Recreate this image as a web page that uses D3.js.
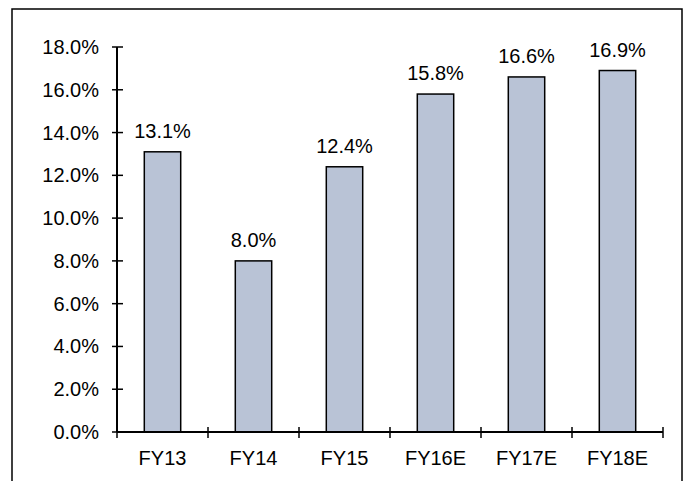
<!DOCTYPE html>
<html>
<head>
<meta charset="utf-8">
<script src="https://cdn.jsdelivr.net/npm/d3@7"></script>
<style>
  html, body { margin: 0; padding: 0; background: #fff; }
  svg { display: block; font-family: "Liberation Sans", Arial, sans-serif; }
</style>
</head>
<body>
<svg id="chart" width="689" height="481"></svg>
<script>
// Fiscal years and their percentage values
const categories = ["FY13", "FY14", "FY15", "FY16E", "FY17E", "FY18E"];
const values = [13.1, 8.0, 12.4, 15.8, 16.6, 16.9];
const yTicks = [0, 2, 4, 6, 8, 10, 12, 14, 16, 18];

const svg = d3.select("#chart");
const plotLeft = 117, plotRight = 663, plotTop = 47, plotBottom = 432;

// Frame around the chart (open at the bottom edge)
svg.append("path")
  .attr("d", "M12,481 V9 H682 V481")
  .attr("fill", "none")
  .attr("stroke", "#000")
  .attr("stroke-width", 1.5);

const x = d3.scaleBand().domain(categories).range([plotLeft, plotRight]).paddingInner(0.6).paddingOuter(0.3);
const xBand = d3.scaleBand().domain(categories).range([plotLeft, plotRight]);
const y = d3.scaleLinear().domain([0, 18]).range([plotBottom, plotTop]);

// Bars
svg.append("g").selectAll("rect")
  .data(values)
  .join("rect")
  .attr("x", (d, i) => x(categories[i]))
  .attr("y", d => y(d))
  .attr("width", x.bandwidth())
  .attr("height", d => y(0) - y(d))
  .attr("fill", "#b9c3d6")
  .attr("stroke", "#000")
  .attr("stroke-width", 1.5);

// Value labels
svg.append("g").selectAll("text")
  .data(values)
  .join("text")
  .attr("x", (d, i) => x(categories[i]) + x.bandwidth() / 2)
  .attr("y", d => y(d) - 14)
  .attr("text-anchor", "middle")
  .attr("font-size", 20)
  .text(d => d.toFixed(1) + "%");

// Y axis
const yAxis = svg.append("g").attr("transform", `translate(${plotLeft},0)`);
yAxis.append("line").attr("x1", 0).attr("x2", 0).attr("y1", y(18)).attr("y2", y(0))
  .attr("stroke", "#000").attr("stroke-width", 2);
yAxis.selectAll("line.tick").data(yTicks).join("line").attr("class", "tick")
  .attr("x1", -5).attr("x2", 6).attr("y1", d => y(d)).attr("y2", d => y(d))
  .attr("stroke", "#000").attr("stroke-width", 1.5);
yAxis.selectAll("text").data(yTicks).join("text")
  .attr("x", -18).attr("y", d => y(d)).attr("dy", "0.35em")
  .attr("text-anchor", "end").attr("font-size", 20)
  .text(d => d.toFixed(1) + "%");

// X axis
const xAxis = svg.append("g").attr("transform", `translate(0,${plotBottom})`);
xAxis.append("line").attr("x1", plotLeft).attr("x2", plotRight).attr("y1", 0).attr("y2", 0)
  .attr("stroke", "#000").attr("stroke-width", 2);
const bounds = categories.map(c => xBand(c)).concat([plotRight]);
xAxis.selectAll("line.tick").data(bounds).join("line").attr("class", "tick")
  .attr("x1", d => d).attr("x2", d => d).attr("y1", -5).attr("y2", 6)
  .attr("stroke", "#000").attr("stroke-width", 1.5);
xAxis.selectAll("text").data(categories).join("text")
  .attr("x", d => xBand(d) + xBand.bandwidth() / 2)
  .attr("y", 33)
  .attr("text-anchor", "middle").attr("font-size", 20)
  .text(d => d);
</script>
</body>
</html>
